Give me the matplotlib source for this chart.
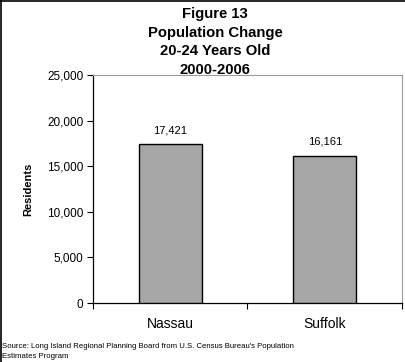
import numpy as np
import matplotlib
matplotlib.use("Agg")
import matplotlib.pyplot as plt
from matplotlib.lines import Line2D
from matplotlib.ticker import FuncFormatter, FixedLocator

plt.rcParams['font.family'] = ['Liberation Sans', 'DejaVu Sans']

# data
counties = ["Nassau", "Suffolk"]
residents = [17421, 16161]
y_ticks = [0, 5000, 10000, 15000, 20000, 25000]
title_lines = ["Figure 13", "Population Change", "20-24 Years Old", "2000-2006"]
source_note = ("Source: Long Island Regional Planning Board from U.S. Census Bureau's Population\n"
               "Estimates Program")

W, H = 406, 362
fig = plt.figure(figsize=(W / 100, H / 100), dpi=100)
fig.patch.set_facecolor("white")

# plot area in pixels: left 93, right 402, top 75, bottom 303
ax = fig.add_axes([93 / W, 1 - 303 / H, (402 - 93) / W, (303 - 75) / H])

x = np.arange(len(counties))
ax.bar(x, residents, width=0.41, color="#a6a6a6", edgecolor="black", linewidth=1.0, zorder=3)

for xi, v in zip(x, residents):
    ax.annotate(f"{v:,}", (xi, v), xytext=(0, 6.5), textcoords="offset points",
                ha="center", va="bottom", fontsize=8)

ax.set_xlim(-0.5, len(counties) - 0.5)
ax.set_ylim(0, 25000)
ax.set_yticks(y_ticks)
ax.yaxis.set_major_formatter(FuncFormatter(lambda v, p: f"{int(v):,}"))
ax.tick_params(axis="y", labelsize=8.5, length=4, width=0.8, direction="out", pad=3)

# category labels without ticks, ticks on category boundaries
ax.set_xticks(x)
ax.set_xticklabels(counties, fontsize=10)
ax.tick_params(axis="x", length=0, pad=10)
ax.xaxis.set_minor_locator(FixedLocator([-0.5, 0.5, 1.5]))
ax.tick_params(axis="x", which="minor", length=4, width=0.8, direction="out")

ax.set_ylabel("Residents", fontsize=8, fontweight="bold", labelpad=10)

for s in ["left", "bottom"]:
    ax.spines[s].set_color("black")
    ax.spines[s].set_linewidth(0.9)
for s in ["top", "right"]:
    ax.spines[s].set_color("#9a9a9a")
    ax.spines[s].set_linewidth(0.8)

# title lines
for i, line in enumerate(title_lines):
    fig.text(215 / W, 1 - (14 + i * 18.7) / H, line, ha="center", va="center",
             fontsize=10.7, fontweight="bold")

fig.text(2 / W, 1 - 351.5 / H, source_note, ha="left", va="center", fontsize=5.6,
         linespacing=1.75)

# outer frame (left and top visible in the reference)
fig.add_artist(Line2D([0.5 / W, 0.5 / W], [0, 1], transform=fig.transFigure, color="black", lw=1.2))
fig.add_artist(Line2D([0, 1], [1 - 0.5 / H, 1 - 0.5 / H], transform=fig.transFigure, color="black", lw=1.2))

fig.savefig("out.png", dpi=100)
